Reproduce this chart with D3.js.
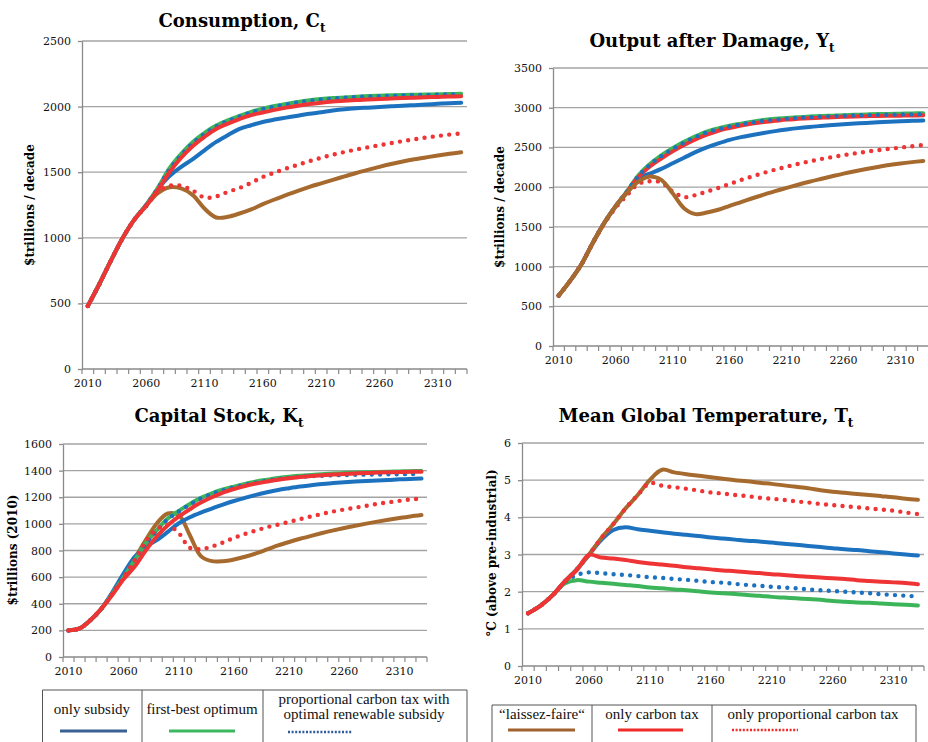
<!DOCTYPE html>
<html>
<head>
<meta charset="utf-8">
<script src="https://cdn.jsdelivr.net/npm/d3@7"></script>
<style>
  body { margin: 0; background: #fff; }
  svg { display: block; }
</style>
</head>
<body>
<svg id="chart"></svg>
<script>
// categories (one per decade)
var years = [2010,2020,2030,2040,2050,2060,2070,2080,2090,2100,2110,2120,2130,2140,2150,2160,2170,
             2180,2190,2200,2210,2220,2230,2240,2250,2260,2270,2280,2290,2300,2310,2320,2330];
var labelYears = [2010,2060,2110,2160,2210,2260,2310];

// Consumption, C_t
var cTicks = [0,500,1000,1500,2000,2500];
var cSubsidy   = [480,650,830,1000,1140,1250,1370,1470,1540,1600,1667,1731,1782,1830,1858,1883,1901,1916,1931,1945,1957,1970,1980,1987,1992,1997,2002,2007,2011,2016,2021,2026,2030];
var cFirstBest = [480,650,830,1000,1140,1250,1380,1530,1640,1730,1800,1855,1895,1930,1960,1985,2005,2020,2035,2048,2058,2065,2070,2075,2080,2083,2086,2088,2090,2092,2094,2096,2097];
var cPropSub   = [480,650,830,1000,1140,1250,1375,1520,1630,1720,1790,1848,1890,1925,1955,1980,2000,2016,2031,2044,2054,2061,2067,2072,2077,2080,2083,2085,2087,2089,2091,2093,2094];
var cLaissez   = [480,650,830,1000,1140,1245,1340,1385,1376,1325,1223,1155,1160,1185,1216,1256,1292,1325,1358,1388,1415,1442,1468,1494,1518,1541,1562,1581,1598,1613,1627,1640,1652];
var cCarbonTax = [480,650,830,1000,1140,1245,1365,1500,1610,1700,1770,1830,1870,1905,1935,1955,1975,1992,2007,2020,2030,2038,2044,2050,2055,2058,2062,2065,2068,2071,2074,2077,2079];
var cPropTax   = [480,650,830,1000,1140,1240,1350,1396,1396,1360,1307,1315,1350,1380,1419,1464,1497,1528,1556,1584,1610,1633,1654,1673,1690,1706,1722,1737,1751,1764,1776,1787,1795];

// Output after Damage, Y_t
var yTicks = [0,500,1000,1500,2000,2500,3000,3500];
var ySubsidy   = [635,820,1030,1300,1550,1760,1935,2110,2170,2230,2300,2370,2440,2500,2550,2595,2630,2657,2682,2705,2725,2743,2758,2770,2781,2791,2800,2809,2817,2824,2830,2835,2840];
var yFirstBest = [635,820,1030,1300,1550,1760,1950,2150,2290,2400,2490,2570,2640,2700,2740,2775,2800,2825,2845,2860,2870,2880,2888,2895,2900,2905,2910,2915,2920,2922,2925,2928,2930];
var yPropSub   = [635,820,1030,1300,1550,1760,1948,2140,2280,2390,2480,2560,2630,2690,2730,2765,2790,2815,2835,2850,2862,2872,2880,2887,2893,2898,2902,2906,2910,2912,2914,2916,2918];
var yLaissez   = [635,820,1030,1300,1550,1760,1930,2070,2135,2092,1924,1735,1660,1680,1715,1765,1812,1860,1906,1950,1990,2030,2068,2103,2137,2170,2200,2228,2254,2278,2298,2315,2330];
var yCarbonTax = [635,820,1030,1300,1550,1760,1940,2130,2260,2360,2450,2530,2600,2660,2710,2745,2775,2800,2820,2835,2850,2860,2868,2875,2880,2885,2890,2893,2896,2898,2900,2902,2905];
var yPropTax   = [635,820,1030,1300,1540,1740,1900,2040,2075,2060,1945,1875,1900,1945,1990,2040,2090,2135,2180,2220,2258,2293,2324,2353,2379,2403,2425,2446,2465,2482,2498,2515,2530];

// Capital Stock, K_t
var kTicks = [0,200,400,600,800,1000,1200,1400,1600];
var kSubsidy   = [200,215,278,365,490,628,753,828,878,940,1005,1050,1085,1115,1145,1172,1195,1218,1238,1255,1268,1280,1290,1300,1307,1313,1318,1322,1326,1330,1335,1338,1340];
var kFirstBest = [200,215,278,365,478,600,728,853,953,1040,1098,1150,1195,1230,1258,1280,1300,1318,1332,1345,1355,1362,1368,1373,1378,1382,1385,1388,1390,1392,1394,1396,1397];
var kPropSub   = [200,215,278,365,478,600,725,845,945,1035,1093,1145,1190,1225,1252,1274,1294,1310,1324,1336,1346,1353,1358,1362,1365,1367,1369,1370,1371,1372,1373,1374,1375];
var kLaissez   = [200,215,278,365,478,615,740,878,1003,1078,1065,915,758,720,720,733,753,778,808,838,864,888,910,931,951,969,986,1002,1017,1031,1044,1056,1066];
var kCarbonTax = [200,215,278,365,470,585,680,800,905,990,1055,1110,1160,1200,1235,1262,1285,1303,1318,1332,1343,1352,1360,1366,1371,1375,1379,1382,1385,1387,1389,1391,1392];
var kPropTax   = [200,215,278,365,478,598,728,870,960,990,930,820,810,830,860,895,925,950,975,995,1015,1036,1056,1075,1093,1108,1122,1136,1150,1162,1173,1183,1190];

// Mean Global Temperature, T_t
var tTicks = [0,1,2,3,4,5,6];
var tSubsidy   = [1.42,1.62,1.90,2.27,2.60,2.99,3.39,3.66,3.73,3.68,3.64,3.60,3.56,3.53,3.50,3.46,3.43,3.40,3.37,3.35,3.32,3.29,3.26,3.23,3.20,3.17,3.14,3.12,3.09,3.06,3.03,3.00,2.97];
var tFirstBest = [1.42,1.62,1.90,2.22,2.31,2.27,2.24,2.21,2.18,2.15,2.11,2.09,2.06,2.04,2.01,1.98,1.96,1.94,1.91,1.89,1.86,1.84,1.82,1.80,1.78,1.75,1.73,1.71,1.70,1.68,1.66,1.65,1.63];
var tPropSub   = [1.42,1.62,1.90,2.25,2.45,2.52,2.50,2.47,2.45,2.42,2.39,2.37,2.34,2.32,2.29,2.26,2.24,2.21,2.18,2.16,2.13,2.11,2.09,2.06,2.04,2.02,2.00,1.98,1.96,1.93,1.91,1.89,1.87];
var tLaissez   = [1.42,1.62,1.90,2.27,2.60,3.00,3.44,3.82,4.24,4.60,5.01,5.28,5.21,5.16,5.12,5.08,5.04,5.00,4.97,4.93,4.90,4.86,4.82,4.78,4.73,4.69,4.66,4.63,4.60,4.57,4.54,4.50,4.47];
var tCarbonTax = [1.42,1.62,1.90,2.27,2.58,2.99,2.92,2.89,2.85,2.80,2.76,2.73,2.70,2.66,2.63,2.60,2.57,2.55,2.52,2.50,2.47,2.45,2.42,2.40,2.38,2.36,2.34,2.31,2.29,2.27,2.25,2.23,2.20];
var tPropTax   = [1.42,1.62,1.90,2.27,2.60,3.00,3.44,3.82,4.24,4.60,4.92,4.85,4.81,4.77,4.72,4.67,4.64,4.60,4.57,4.53,4.50,4.47,4.43,4.40,4.36,4.33,4.30,4.27,4.24,4.21,4.18,4.13,4.09];

// line styles per series
var styles = {
    subsidy:   {color: '#1d72c0', dotted: false},
    firstBest: {color: '#3cb55a', dotted: false},
    propSub:   {color: '#1d72c0', dotted: true},
    laissez:   {color: '#a66a2e', dotted: false},
    carbonTax: {color: '#ee3434', dotted: false},
    propTax:   {color: '#ee3434', dotted: true}
};

var svg = d3.select('#chart')
    .attr('width', 928)
    .attr('height', 742)
    .style('font-family', '"DejaVu Serif", serif');

svg.append('rect').attr('width', 928).attr('height', 742).attr('fill', '#fff');

var panels = [
    {title: 'Consumption, C', ylabel: '$trillions / decade', ticks: cTicks,
     left: 82, right: 467, top: 41, bottom: 369, tx: 242, ty: 27, lx: 34, ly: 205,
     series: {subsidy: cSubsidy, firstBest: cFirstBest, propSub: cPropSub, laissez: cLaissez, carbonTax: cCarbonTax, propTax: cPropTax},
     order: ['laissez', 'subsidy', 'firstBest', 'propSub', 'propTax', 'carbonTax']},
    {title: 'Output after Damage, Y', ylabel: '$trillions / decade', ticks: yTicks,
     left: 553, right: 929, top: 68, bottom: 346, tx: 712, ty: 47, lx: 504, ly: 207,
     series: {subsidy: ySubsidy, firstBest: yFirstBest, propSub: yPropSub, laissez: yLaissez, carbonTax: yCarbonTax, propTax: yPropTax},
     order: ['subsidy', 'firstBest', 'carbonTax', 'propSub', 'propTax', 'laissez']},
    {title: 'Capital Stock, K', ylabel: '$trillions (2010)', ticks: kTicks,
     left: 63, right: 427, top: 444, bottom: 657, tx: 219, ty: 422, lx: 17, ly: 550,
     series: {subsidy: kSubsidy, firstBest: kFirstBest, propSub: kPropSub, laissez: kLaissez, carbonTax: kCarbonTax, propTax: kPropTax},
     order: ['laissez', 'subsidy', 'firstBest', 'propSub', 'carbonTax', 'propTax']},
    {title: 'Mean Global Temperature, T', ylabel: '°C (above pre-industrial)', ticks: tTicks,
     left: 522, right: 924, top: 443, bottom: 666, tx: 706, ty: 422, lx: 496, ly: 553,
     series: {subsidy: tSubsidy, firstBest: tFirstBest, propSub: tPropSub, laissez: tLaissez, carbonTax: tCarbonTax, propTax: tPropTax},
     order: ['firstBest', 'propSub', 'subsidy', 'laissez', 'propTax', 'carbonTax']}
];

panels.forEach(function(p) {
    var x = d3.scaleBand().domain(years).range([p.left, p.right]);
    var y = d3.scaleLinear().domain([0, d3.max(p.ticks)]).range([p.bottom, p.top]);
    var bw = x.bandwidth();
    var g = svg.append('g');

    // gridlines
    g.selectAll('.grid')
        .data(p.ticks.filter(function(d) { return d > 0; }))
        .enter()
        .append('line')
        .attr('x1', p.left).attr('x2', p.right)
        .attr('y1', function(d) { return y(d); })
        .attr('y2', function(d) { return y(d); })
        .attr('stroke', '#a3a3a3')
        .attr('stroke-width', 1.3);

    // y axis
    var yAxis = g.append('g')
        .attr('transform', 'translate(' + p.left + ',0)')
        .call(d3.axisLeft(y).tickValues(p.ticks).tickFormat(d3.format('d'))
            .tickSize(4).tickPadding(7).tickSizeOuter(0));
    yAxis.select('.domain').attr('stroke', '#8a8a8a').attr('stroke-width', 1.3);
    yAxis.selectAll('.tick line').attr('stroke', '#8a8a8a').attr('stroke-width', 1.3);
    yAxis.selectAll('text').attr('font-size', 11).attr('font-family', '"DejaVu Serif", serif').attr('fill', '#111');

    // x axis: line, boundary ticks, labels every 5 decades
    g.append('line')
        .attr('x1', p.left).attr('x2', p.right)
        .attr('y1', p.bottom).attr('y2', p.bottom)
        .attr('stroke', '#8a8a8a').attr('stroke-width', 1.3);
    g.selectAll('.xtick')
        .data(years.concat(['end']))
        .enter()
        .append('line')
        .attr('x1', function(d) { return d === 'end' ? p.right : x(d); })
        .attr('x2', function(d) { return d === 'end' ? p.right : x(d); })
        .attr('y1', p.bottom).attr('y2', p.bottom + 5)
        .attr('stroke', '#8a8a8a').attr('stroke-width', 1.2);
    var xAxis = g.append('g')
        .attr('transform', 'translate(0,' + p.bottom + ')')
        .call(d3.axisBottom(x).tickValues(labelYears).tickSize(0).tickPadding(10));
    xAxis.select('.domain').remove();
    xAxis.selectAll('text').attr('font-size', 11).attr('font-family', '"DejaVu Serif", serif').attr('fill', '#111');

    // series lines
    var line = d3.line()
        .x(function(d, i) { return x(years[i]) + bw / 2; })
        .y(function(d) { return y(d); })
        .curve(d3.curveCatmullRom.alpha(0.5));

    p.order.forEach(function(key) {
        var s = styles[key];
        g.append('path')
            .datum(p.series[key])
            .attr('d', line)
            .attr('fill', 'none')
            .attr('stroke', s.color)
            .attr('stroke-width', s.dotted ? 4.4 : 4)
            .attr('stroke-linecap', 'round')
            .attr('stroke-linejoin', 'round')
            .attr('stroke-dasharray', s.dotted ? '0 8.3' : null);
    });

    // title with subscript t
    var title = g.append('text')
        .attr('x', p.tx).attr('y', p.ty)
        .attr('text-anchor', 'middle')
        .attr('font-size', 18)
        .attr('font-weight', 'bold')
        .attr('fill', '#000');
    title.append('tspan').text(p.title);
    title.append('tspan').text('t').attr('font-size', 12).attr('dy', 5);

    // y label
    g.append('text')
        .attr('transform', 'translate(' + p.lx + ',' + p.ly + ') rotate(-90)')
        .attr('text-anchor', 'middle')
        .attr('font-size', 12)
        .attr('font-weight', 'bold')
        .attr('fill', '#000')
        .text(p.ylabel);
});

// legends (two boxes at the bottom)
var legendBoxes = [
    {top: 690, edges: [42.5, 142, 263, 467]},
    {top: 705, edges: [492, 592, 712, 916]}
];
var legendItems = [
    {key: 'subsidy',   text: ['only subsidy'], tx: 92, ty: [714], x1: 60, x2: 127, ly: 731, color: '#3a6192'},
    {key: 'firstBest', text: ['first-best optimum'], tx: 202, ty: [714], x1: 169, x2: 235, ly: 731, color: '#3cb860'},
    {key: 'propSub',   text: ['proportional carbon tax with', 'optimal renewable subsidy'], tx: 364, ty: [704, 719], x1: 288, x2: 352, ly: 732, color: '#2e5a9c'},
    {key: 'laissez',   text: ['\u201claissez-faire\u201c'], tx: 542, ty: [719], x1: 508, x2: 575, ly: 730, color: '#a0622e'},
    {key: 'carbonTax', text: ['only carbon tax'], tx: 652, ty: [719], x1: 618, x2: 683, ly: 730, color: '#ee2a2a'},
    {key: 'propTax',   text: ['only proportional carbon tax'], tx: 813, ty: [719], x1: 732, x2: 798, ly: 730, color: '#ee2a2a'}
];

var lg = svg.append('g');
legendBoxes.forEach(function(b) {
    lg.append('line')
        .attr('x1', b.edges[0]).attr('x2', b.edges[b.edges.length - 1])
        .attr('y1', b.top).attr('y2', b.top)
        .attr('stroke', '#555').attr('stroke-width', 1);
    lg.selectAll(null)
        .data(b.edges)
        .enter()
        .append('line')
        .attr('x1', function(d) { return d; }).attr('x2', function(d) { return d; })
        .attr('y1', b.top).attr('y2', 742)
        .attr('stroke', '#555').attr('stroke-width', 1);
});

legendItems.forEach(function(it) {
    var dotted = styles[it.key].dotted;
    it.text.forEach(function(t, i) {
        lg.append('text')
            .attr('x', it.tx).attr('y', it.ty[i])
            .attr('text-anchor', 'middle')
            .attr('font-family', '"Liberation Serif", "Times New Roman", serif')
            .attr('font-size', 15)
            .attr('fill', '#111')
            .text(t);
    });
    lg.append('line')
        .attr('x1', it.x1).attr('x2', it.x2)
        .attr('y1', it.ly).attr('y2', it.ly)
        .attr('stroke', it.color)
        .attr('stroke-width', dotted ? 2.5 : 3)
        .attr('stroke-dasharray', dotted ? '2 1.6' : null);
});
</script>
</body>
</html>
